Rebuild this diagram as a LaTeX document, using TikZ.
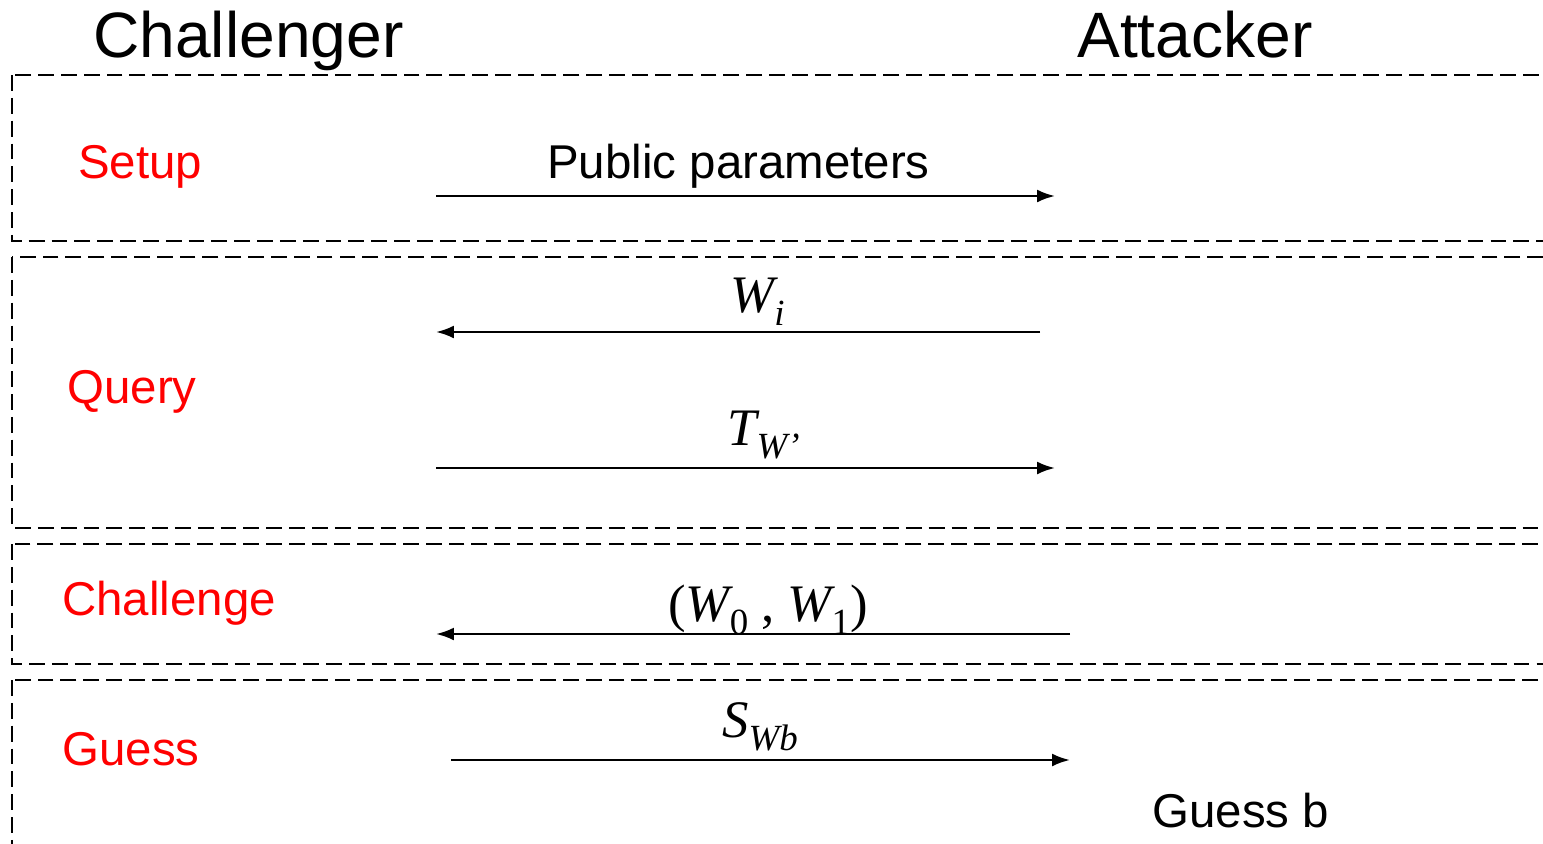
\documentclass[tikz,border=0pt]{standalone}
\usepackage{fontspec}
\setmainfont{Liberation Sans}
\newfontfamily\tnr{Liberation Serif}
\usetikzlibrary{arrows.meta}

% italic symbol with a lowered index, Times-like
\newcommand{\msym}[2]{{\tnr\itshape #1\raisebox{-0.25em}{\fontsize{21}{24}\selectfont #2}}}

\begin{document}
\begin{tikzpicture}[
  x=0.02cm, y=-0.02cm,
  font=\fontsize{27}{30}\selectfont,
  >={Latex[length=0.36cm,width=0.26cm]},
  every node/.style={inner sep=0pt},
  phasebox/.style={draw=black, line width=1.4pt, dash pattern=on 9pt off 4pt},
  party/.style={anchor=base west, font=\fontsize{36.5}{40}\selectfont},
  phase/.style={anchor=base west, text=red},
  msglbl/.style={anchor=base west, font=\tnr\fontsize{30}{34}\selectfont},
  msg/.style={->, line width=1.4pt},
]
\path[use as bounding box, clip] (0,0) rectangle (1543,843);

%---------- parties ----------
\node[party] (chl) at (93,57) {Challenger};
\node[party] (att) at (1077,57) {Attacker};

%---------- phase frames (run off the right edge) ----------
\draw[phasebox] (12,75) rectangle (1580,241);
\draw[phasebox] (12,257) rectangle (1580,528);
\draw[phasebox] (12,544) rectangle (1580,664);
\draw[phasebox] (12,680) rectangle (1580,880);

%---------- phase names ----------
\node[phase] (ph1) at (78,178) {Setup};
\node[phase] (ph2) at (67,403) {Query};
\node[phase] (ph3) at (62,615) {Challenge};
\node[phase] (ph4) at (62,765) {Guess};

%---------- message end points ----------
\coordinate (pp1) at (436,196);  \coordinate (pp2) at (1055,196);
\coordinate (wi1) at (1040,332); \coordinate (wi2) at (436,332);
\coordinate (tw1) at (436,468);  \coordinate (tw2) at (1055,468);
\coordinate (wb1) at (1070,634); \coordinate (wb2) at (436,634);
\coordinate (sw1) at (451,760);  \coordinate (sw2) at (1070,760);

%---------- messages ----------
\draw[msg] (pp1) -- (pp2);
\draw[msg] (wi1) -- (wi2);
\draw[msg] (tw1) -- (tw2);
\draw[msg] (wb1) -- (wb2);
\draw[msg] (sw1) -- (sw2);

%---------- message labels ----------
\node[anchor=base west] (lpp) at (547,178) {Public parameters};
\node[msglbl] (lwi) at (730,312) {\msym{W}{i}};
\node[msglbl] (ltw) at (727,445) {\msym{T}{W’}};
\node[msglbl] (lwb) at (668,621)
  {(\msym{W}{\upshape 0} , \msym{W}{\upshape 1})};
\node[msglbl] (lsw) at (722,737) {\msym{S}{Wb}};

\node[anchor=base west] (gb) at (1152,827) {Guess b};

\end{tikzpicture}
\end{document}
